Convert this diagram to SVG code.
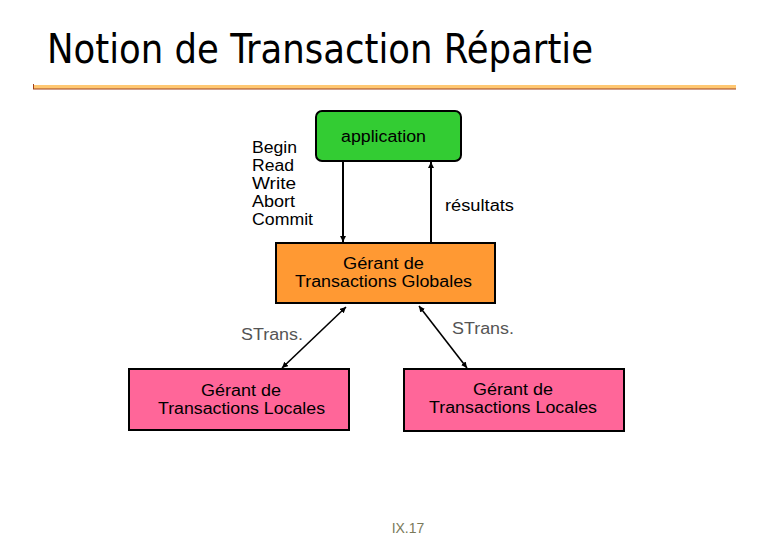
<svg xmlns="http://www.w3.org/2000/svg" width="780" height="540" viewBox="0 0 780 540">
<defs>
<marker id="ah" viewBox="0 0 10 10" refX="10" refY="5" markerWidth="6" markerHeight="6" orient="auto-start-reverse" markerUnits="userSpaceOnUse">
<path d="M0,0 L10,5 L0,10 z" fill="#000"/>
</marker>
<style>
text{font-family:"Liberation Sans",Arial,sans-serif;font-size:16px;fill:#000}
.c{text-anchor:middle}
.g{fill:#555555}
.box{stroke:#000;stroke-width:2}
.ln{stroke:#000;stroke-width:2;fill:none}
</style>
</defs>
<rect width="780" height="540" fill="#fff"/>
<text x="47" y="63" style="font-family:'DejaVu Sans Condensed','DejaVu Sans',sans-serif;font-size:41px" textLength="546" lengthAdjust="spacingAndGlyphs">Notion de Transaction Répartie</text>
<rect x="33" y="85" width="703" height="4" fill="#FFC872"/>
<line x1="33" y1="89" x2="736" y2="89" stroke="#A0401A" stroke-width="1.2"/>
<line x1="33.5" y1="84" x2="33.5" y2="89" stroke="#A0401A" stroke-width="1"/>

<g id="connectors">
<line class="ln" x1="343" y1="162" x2="343" y2="242" marker-end="url(#ah)"/>
<line class="ln" x1="431" y1="243" x2="431" y2="162" marker-end="url(#ah)"/>
<line class="ln" x1="282" y1="368" x2="346" y2="307" marker-start="url(#ah)" marker-end="url(#ah)" style="stroke-width:1.6"/>
<line class="ln" x1="467" y1="368" x2="419" y2="306" marker-start="url(#ah)" marker-end="url(#ah)" style="stroke-width:1.6"/>
</g>

<g id="labels">
<text x="252" y="153" textLength="45" lengthAdjust="spacingAndGlyphs">Begin</text>
<text x="252" y="171" textLength="42" lengthAdjust="spacingAndGlyphs">Read</text>
<text x="252" y="189" textLength="44" lengthAdjust="spacingAndGlyphs">Write</text>
<text x="252" y="207" textLength="43" lengthAdjust="spacingAndGlyphs">Abort</text>
<text x="252" y="225" textLength="61" lengthAdjust="spacingAndGlyphs">Commit</text>
<text x="445" y="211" textLength="69" lengthAdjust="spacingAndGlyphs">résultats</text>
<text class="g" x="241" y="340" textLength="62" lengthAdjust="spacingAndGlyphs">STrans.</text>
<text class="g" x="452" y="334" textLength="62" lengthAdjust="spacingAndGlyphs">STrans.</text>
</g>

<g id="application">
<rect class="box" x="316" y="111" width="145" height="50" rx="6" fill="#33CC33"/>
<text x="341" y="142" textLength="85" lengthAdjust="spacingAndGlyphs">application</text>
</g>

<g id="gtg">
<rect class="box" x="276" y="243" width="219" height="60" fill="#FF9933"/>
<text x="343" y="269" textLength="81" lengthAdjust="spacingAndGlyphs">Gérant de</text>
<text x="295" y="287" textLength="177" lengthAdjust="spacingAndGlyphs">Transactions Globales</text>
</g>

<g id="gtl1">
<rect class="box" x="129" y="369" width="220" height="61" fill="#FF6699"/>
<text x="201" y="396" textLength="80" lengthAdjust="spacingAndGlyphs">Gérant de</text>
<text x="158" y="414" textLength="167" lengthAdjust="spacingAndGlyphs">Transactions Locales</text>
</g>

<g id="gtl2">
<rect class="box" x="404" y="369" width="220" height="62" fill="#FF6699"/>
<text x="473" y="395" textLength="80" lengthAdjust="spacingAndGlyphs">Gérant de</text>
<text x="429" y="413" textLength="168" lengthAdjust="spacingAndGlyphs">Transactions Locales</text>
</g>

<text class="c" x="408" y="533" style="font-size:14px;fill:#7A7A5A">IX.17</text>
</svg>
